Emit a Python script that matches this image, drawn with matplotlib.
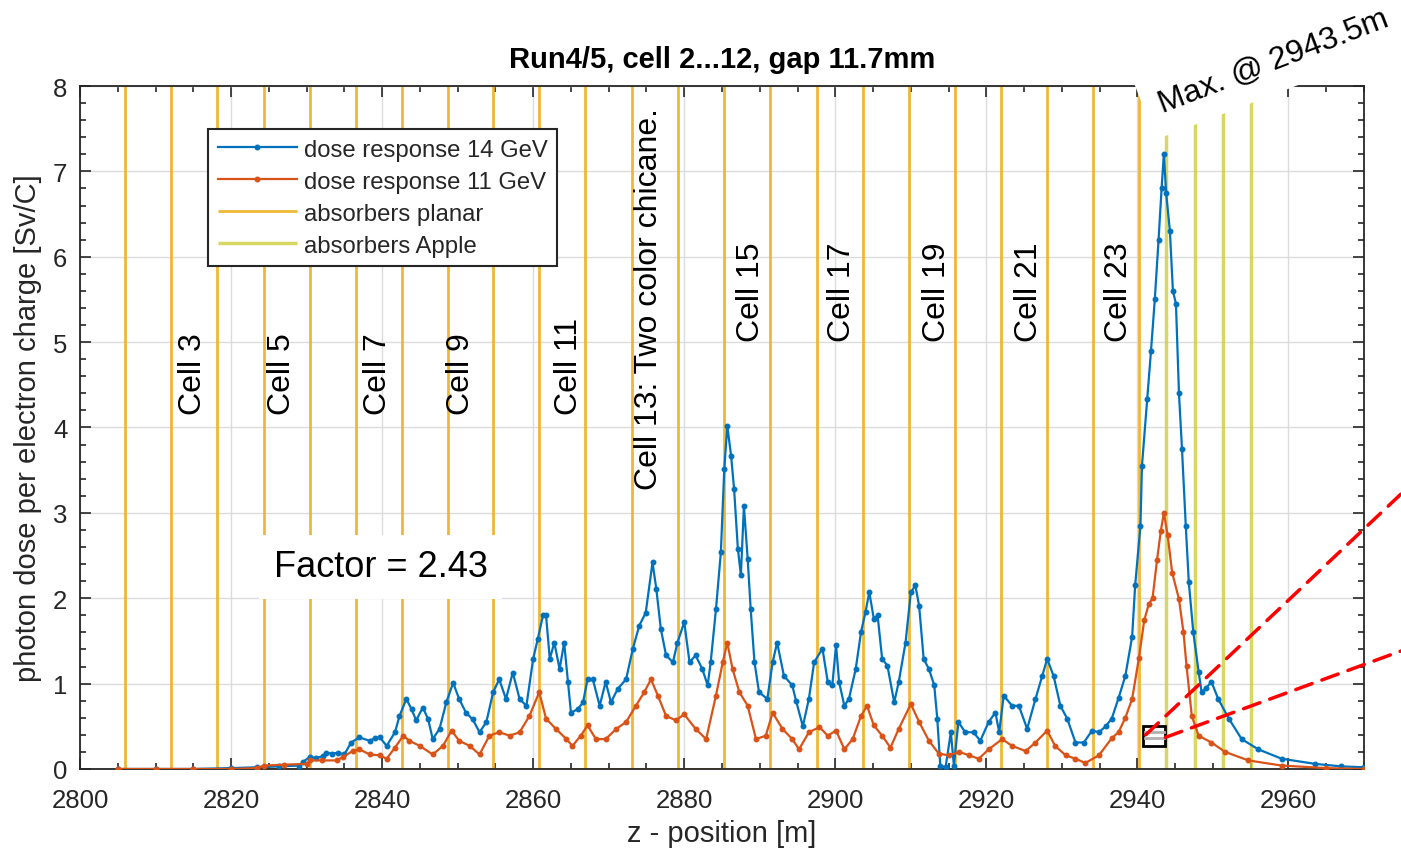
import matplotlib
matplotlib.use("Agg")
import matplotlib.pyplot as plt
from matplotlib.patches import Rectangle, ConnectionPatch

plt.rcParams["font.family"] = ["Liberation Sans", "DejaVu Sans"]

# ---- data ----
z_14 = [2805.0, 2810.0, 2815.0, 2820.0, 2823.5, 2826.4, 2829.0, 2829.5, 2830.4, 2831.3,
        2832.2, 2832.6, 2833.4, 2834.2, 2835.0, 2835.9, 2837.0, 2838.35, 2839.0, 2839.7,
        2840.6, 2841.7, 2842.3, 2843.2, 2843.9, 2844.5, 2845.4, 2846.1, 2846.7, 2847.6,
        2848.5, 2849.4, 2850.2, 2851.1, 2852.0, 2852.9, 2853.8, 2854.7, 2855.5, 2856.4,
        2857.3, 2858.2, 2859.1, 2860.0, 2860.6, 2861.3, 2861.7, 2862.2, 2862.8, 2863.5,
        2864.1, 2864.6, 2865.0, 2865.9, 2866.6, 2867.2, 2867.9, 2868.8, 2869.6, 2870.3,
        2871.2, 2872.3, 2873.2, 2874.05, 2874.9, 2875.8, 2876.3, 2876.9, 2877.6, 2878.5,
        2879.1, 2880.0, 2880.7, 2881.5, 2882.4, 2883.1, 2883.5, 2884.2, 2884.85, 2885.3,
        2885.7, 2886.2, 2886.6, 2887.1, 2887.5, 2887.9, 2888.4, 2888.8, 2889.3, 2889.9,
        2891.0, 2891.7, 2892.3, 2893.2, 2894.3, 2894.8, 2895.7, 2896.5, 2897.2, 2898.3,
        2899.0, 2899.6, 2900.1, 2900.5, 2901.2, 2901.8, 2902.7, 2903.4, 2904.0, 2904.5,
        2905.1, 2905.6, 2906.2, 2906.9, 2907.8, 2908.4, 2909.3, 2910.0, 2910.6, 2911.1,
        2911.7, 2912.4, 2913.1, 2913.5, 2913.9, 2914.6, 2915.3, 2915.7, 2916.3, 2917.2,
        2918.3, 2919.2, 2920.3, 2921.2, 2921.7, 2922.3, 2923.4, 2924.3, 2925.4, 2926.5,
        2927.4, 2928.05, 2928.9, 2929.8, 2930.7, 2931.8, 2932.9, 2934.0, 2934.9, 2935.8,
        2936.6, 2937.5, 2938.4, 2939.3, 2939.7, 2940.4, 2940.6, 2941.3, 2941.8, 2942.3,
        2942.8, 2943.2, 2943.5, 2943.8, 2944.3, 2944.7, 2945.1, 2945.5, 2945.9, 2946.4,
        2946.8, 2947.4, 2948.1, 2948.5, 2949.1, 2949.8, 2950.7, 2952.1, 2953.8, 2956.0,
        2959.1, 2963.5, 2967.0, 2970.0]
dose_14 = [0.0, 0.0, 0.0, 0.01, 0.02, 0.03, 0.04, 0.08, 0.14, 0.13,
           0.15, 0.19, 0.18, 0.19, 0.17, 0.31, 0.37, 0.33, 0.36, 0.37,
           0.27, 0.43, 0.62, 0.82, 0.70, 0.57, 0.72, 0.58, 0.35, 0.47,
           0.78, 1.01, 0.82, 0.66, 0.58, 0.43, 0.55, 0.90, 1.05, 0.82,
           1.13, 0.82, 0.74, 1.29, 1.52, 1.80, 1.80, 1.29, 1.48, 1.17,
           1.48, 1.02, 0.66, 0.70, 0.78, 1.05, 1.05, 0.74, 1.02, 0.78,
           0.94, 1.05, 1.41, 1.68, 1.83, 2.42, 2.11, 1.64, 1.33, 1.25,
           1.48, 1.72, 1.25, 1.33, 1.17, 0.98, 1.25, 1.87, 2.54, 3.51,
           4.02, 3.67, 3.28, 2.58, 2.27, 3.08, 2.46, 1.87, 1.25, 0.90,
           0.82, 1.25, 1.48, 1.09, 0.98, 0.80, 0.50, 0.82, 1.25, 1.41,
           1.02, 0.98, 1.45, 1.02, 0.74, 0.82, 1.17, 1.60, 1.84, 2.07,
           1.76, 1.80, 1.29, 1.21, 0.78, 1.02, 1.48, 2.07, 2.15, 1.91,
           1.29, 1.17, 0.98, 0.59, 0.04, 0.02, 0.43, 0.04, 0.55, 0.43,
           0.43, 0.33, 0.55, 0.66, 0.43, 0.86, 0.74, 0.74, 0.47, 0.82,
           1.09, 1.29, 1.09, 0.74, 0.59, 0.31, 0.31, 0.45, 0.43, 0.50,
           0.59, 0.83, 1.09, 1.55, 2.15, 2.85, 3.55, 4.33, 4.90, 5.50,
           6.20, 6.80, 7.20, 6.75, 6.30, 5.60, 5.45, 4.40, 3.75, 2.85,
           2.19, 1.60, 1.14, 0.90, 0.95, 1.02, 0.82, 0.59, 0.35, 0.23,
           0.12, 0.06, 0.03, 0.02]

z_11 = [2805.0, 2810.0, 2815.0, 2820.0, 2823.4, 2824.4, 2827.0, 2830.0, 2830.5, 2832.0,
        2834.0, 2834.8, 2836.1, 2837.0, 2838.35, 2839.7, 2840.6, 2841.7, 2842.8, 2843.6,
        2845.0, 2846.7, 2848.05, 2849.2, 2850.2, 2851.6, 2852.9, 2854.2, 2855.5, 2856.9,
        2858.2, 2859.5, 2860.8, 2861.7, 2863.0, 2864.4, 2865.2, 2866.3, 2867.2, 2868.3,
        2869.6, 2871.0, 2872.3, 2873.6, 2874.7, 2875.6, 2876.5, 2877.6, 2878.9, 2880.0,
        2881.5, 2882.9, 2884.2, 2885.1, 2885.7, 2886.4, 2887.3, 2888.4, 2889.5, 2890.8,
        2891.7, 2893.0, 2894.3, 2895.2, 2896.5, 2897.9, 2899.0, 2900.1, 2901.2, 2902.3,
        2903.4, 2904.2, 2905.1, 2906.2, 2907.3, 2908.4, 2910.0, 2911.1, 2912.4, 2913.7,
        2915.0, 2916.4, 2917.7, 2919.0, 2920.3, 2922.1, 2923.4, 2925.2, 2926.5, 2928.05,
        2929.1, 2930.5, 2931.8, 2933.1, 2934.9, 2936.6, 2937.5, 2938.4, 2939.3, 2940.2,
        2940.9, 2941.5, 2942.0, 2942.6, 2943.1, 2943.5, 2944.0, 2944.6, 2945.5, 2946.1,
        2946.5, 2947.2, 2948.1, 2949.8, 2951.6, 2954.7, 2959.1, 2965.0, 2970.0]
dose_11 = [0.0, 0.0, 0.0, 0.0, 0.01, 0.04, 0.05, 0.06, 0.10, 0.10,
           0.10, 0.14, 0.21, 0.23, 0.17, 0.16, 0.12, 0.25, 0.39, 0.33,
           0.27, 0.17, 0.27, 0.45, 0.33, 0.27, 0.17, 0.39, 0.43, 0.39,
           0.43, 0.62, 0.90, 0.59, 0.47, 0.35, 0.27, 0.39, 0.51, 0.35,
           0.35, 0.47, 0.55, 0.74, 0.90, 1.05, 0.86, 0.62, 0.57, 0.64,
           0.47, 0.35, 0.86, 1.25, 1.48, 1.17, 0.90, 0.74, 0.35, 0.39,
           0.66, 0.47, 0.35, 0.23, 0.43, 0.49, 0.39, 0.45, 0.23, 0.35,
           0.62, 0.74, 0.51, 0.39, 0.25, 0.47, 0.76, 0.55, 0.33, 0.18,
           0.16, 0.20, 0.16, 0.12, 0.23, 0.35, 0.27, 0.21, 0.31, 0.45,
           0.27, 0.16, 0.12, 0.07, 0.16, 0.36, 0.43, 0.60, 0.82, 1.30,
           1.74, 1.93, 2.00, 2.45, 2.79, 3.00, 2.74, 2.30, 1.99, 1.60,
           1.21, 0.62, 0.39, 0.31, 0.20, 0.10, 0.04, 0.01, 0.0]

planar_z = [2805.9, 2812.1, 2818.2, 2824.3, 2830.4, 2836.6, 2842.6, 2848.7, 2854.7, 2860.8,
            2866.9, 2873.1, 2879.2, 2885.3, 2891.4, 2897.6, 2903.7, 2909.8, 2915.8, 2921.9,
            2928.0, 2934.1, 2940.2]
apple_z = [2943.8, 2947.6, 2951.35, 2955.0]

cell_labels = ["Cell 3", "Cell 5", "Cell 7", "Cell 9", "Cell 11", "Cell 13: Two color chicane.",
               "Cell 15", "Cell 17", "Cell 19", "Cell 21", "Cell 23"]
cell_z = [2814.9, 2826.8, 2839.4, 2850.5, 2864.8, 2875.4, 2888.9, 2900.9, 2913.5, 2925.6, 2937.5]
cell_y = [4.16, 4.16, 4.16, 4.16, 4.16, 3.28, 5.01, 5.01, 5.01, 5.01, 5.01]

# ---- colours ----
blue = "#0072BD"
red = "#D95319"
orange = "#EDB120"
apple = "#CDCD3A"
dark = "#262626"

fig = plt.figure(figsize=(14.01, 8.54), dpi=100)
ax = fig.add_axes([0.0571, 0.0984, 0.9165, 0.7997])

ax.vlines(planar_z, 0, 8, colors=orange, linewidth=2.0, alpha=0.9, zorder=1,
          label="absorbers planar")
ax.vlines(apple_z, 0, 8, colors=apple, linewidth=2.5, alpha=0.8, zorder=1,
          label="absorbers Apple")
ax.plot([planar_z[0], planar_z[-1]], [0, 0], color=orange, lw=2, zorder=1)
ax.plot([apple_z[0], apple_z[-1]], [0, 0], color=apple, lw=2, zorder=1)

ax.plot(z_14, dose_14, color=blue, lw=1.6, marker=".", markersize=6.5, zorder=3,
        label="dose response 14 GeV")
ax.plot(z_11, dose_11, color=red, lw=1.6, marker=".", markersize=6.5, zorder=3,
        label="dose response 11 GeV")

ax.set_xlim(2800, 2970)
ax.set_ylim(0, 8)
ax.set_xticks([2800, 2820, 2840, 2860, 2880, 2900, 2920, 2940, 2960])
ax.set_yticks(range(0, 9))
ax.set_xticks(range(2800, 2971, 5), minor=True)
ax.set_yticks([i * 0.2 for i in range(41)], minor=True)
ax.tick_params(which="both", direction="in", top=True, right=True, colors=dark,
               labelsize=18.5, width=1.2)
ax.tick_params(which="major", length=8)
ax.tick_params(axis="x", which="major", pad=14)
ax.tick_params(axis="y", which="major", pad=9)
ax.tick_params(which="minor", length=4)
for s in ax.spines.values():
    s.set_color(dark)
    s.set_linewidth(1.3)
ax.grid(True, which="major", color="#dcdcdc", linewidth=1.0)
ax.set_axisbelow(True)

ax.set_title("Run4/5, cell 2...12, gap 11.7mm", fontsize=21, fontweight="bold", pad=14)
ax.set_xlabel("z - position [m]", fontsize=21, color=dark, labelpad=5)
ax.set_ylabel("photon dose per electron charge [Sv/C]", fontsize=21, color=dark, labelpad=8)

for lab, zx, yy in zip(cell_labels, cell_z, cell_y):
    ax.text(zx, yy, lab, rotation=90, ha="center", va="bottom", fontsize=23, zorder=4)

ax.text(2839.8, 2.37, "Factor = 2.43", fontsize=26, ha="center", va="center", zorder=6,
        bbox=dict(boxstyle="square,pad=0.4", facecolor="white", edgecolor="none"))

h, l = ax.get_legend_handles_labels()
order = [2, 3, 0, 1]
leg = ax.legend([h[i] for i in order], [l[i] for i in order], loc="upper left",
                bbox_to_anchor=(0.1, 0.937), borderaxespad=0, fontsize=17.2,
                handlelength=3.3, handletextpad=0.3, labelspacing=0.42, borderpad=0.4,
                fancybox=False, framealpha=1, edgecolor=dark, labelcolor=dark)
leg.get_frame().set_linewidth(1.5)
leg.set_zorder(7)

# zoom marker box with dashed leaders
rect = Rectangle((2940.8, 0.27), 2.9, 0.23, facecolor="white", edgecolor="black",
                 linewidth=2, zorder=8)
ax.add_patch(rect)
ax.plot([2941.0, 2943.5], [0.43, 0.43], color="#b0b0b0", lw=2, zorder=9)
ax.plot([2941.0, 2943.5], [0.36, 0.36], color="#b0b0b0", lw=2, zorder=9)
for xa, ya, yb in [(2941.1, 0.40, 1 - 495 / 854), (2943.7, 0.37, 1 - 652 / 854)]:
    cp = ConnectionPatch(xyA=(xa, ya), coordsA=ax.transData, xyB=(1.0, yb),
                         coordsB=fig.transFigure, color="red", lw=2.5,
                         linestyle=(0, (5, 3)), zorder=10)
    fig.add_artist(cp)

fig.text(0.909, 0.927, "Max. @ 2943.5m", fontsize=23, rotation=21, rotation_mode="anchor",
         ha="center", va="center", zorder=10,
         bbox=dict(boxstyle="square,pad=0.5", facecolor="white", edgecolor="none"))

fig.savefig("out.png", dpi=100)
